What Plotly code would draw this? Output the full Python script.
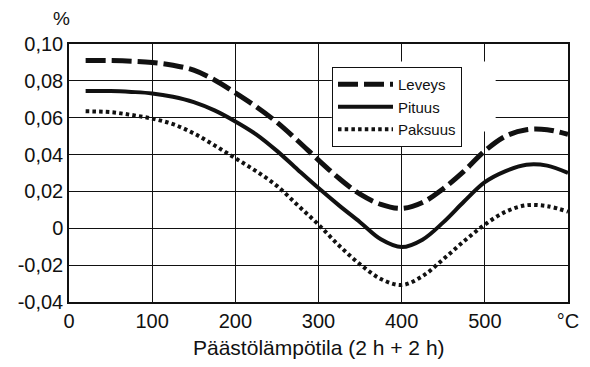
import plotly.graph_objects as go

# x positions (°C)
temp = [20, 50, 75, 100, 125, 150, 175, 200, 225, 250, 275, 300, 325, 350, 375, 400,
        425, 450, 475, 500, 525, 550, 575, 600]

leveys = [0.091, 0.091, 0.0907, 0.0900, 0.0885, 0.0858, 0.0805, 0.0735, 0.066, 0.0575,
          0.0475, 0.037, 0.027, 0.0185, 0.0130, 0.0108, 0.0140, 0.0215, 0.031, 0.042,
          0.0500, 0.0535, 0.0535, 0.0510]

pituus = [0.0745, 0.0745, 0.0740, 0.0732, 0.0714, 0.0685, 0.0640, 0.0580, 0.0510, 0.0420,
          0.0318, 0.0218, 0.0123, 0.0033, -0.0060, -0.0102, -0.0062, 0.0032, 0.0145, 0.0250,
          0.0310, 0.0345, 0.0340, 0.0300]

paksuus = [0.0635, 0.0630, 0.0615, 0.0595, 0.0565, 0.0515, 0.0450, 0.0380, 0.0310, 0.0230,
           0.0125, 0.0020, -0.0095, -0.0195, -0.0275, -0.0308, -0.0260, -0.0168, -0.0070,
           0.0020, 0.0090, 0.0125, 0.0120, 0.0090]

series_names = ["Leveys", "Pituus", "Paksuus"]

x_tickvals = [0, 100, 200, 300, 400, 500, 600]
x_ticktext = ["0", "100", "200", "300", "400", "500", "°C"]
y_tickvals = [-0.04, -0.02, 0, 0.02, 0.04, 0.06, 0.08, 0.10]
y_ticktext = ["-0,04", "-0,02", "0", "0,02", "0,04", "0,06", "0,08", "0,10"]

FONT = "Liberation Sans, Arial, Helvetica, sans-serif"
INK = "#111111"

fig = go.Figure()
fig.add_trace(go.Scatter(x=temp, y=leveys, name=series_names[0], mode="lines",
                         line=dict(color=INK, width=5, dash="20px,6px", shape="spline", smoothing=1.0)))
fig.add_trace(go.Scatter(x=temp, y=pituus, name=series_names[1], mode="lines",
                         line=dict(color=INK, width=4, shape="spline", smoothing=1.0)))
fig.add_trace(go.Scatter(x=temp, y=paksuus, name=series_names[2], mode="lines",
                         line=dict(color=INK, width=4, dash="3.5px,3.2px", shape="spline", smoothing=1.0)))

# white mask behind legend (hides gridlines as in the original)
fig.add_shape(type="rect", xref="x", yref="y", x0=316, x1=513, y0=0.0525, y1=0.0905,
              fillcolor="white", line=dict(width=0), layer="between")

PW, PH = 499, 258
fig.update_layout(
    width=590, height=367,
    margin=dict(l=69, r=22, t=44, b=65),
    paper_bgcolor="white", plot_bgcolor="white",
    font=dict(family=FONT, color=INK, size=20),
    showlegend=True,
    legend=dict(x=(332 - 69) / PW, y=1 - (67 - 44) / PH, xanchor="left", yanchor="top",
                bgcolor="white", bordercolor=INK, borderwidth=1,
                font=dict(size=15, family=FONT, color=INK),
                itemwidth=55, tracegroupgap=0),
    annotations=[
        dict(text="%", x=(61 - 69) / PW, y=1 + (44 - 18) / PH, xref="paper", yref="paper",
             showarrow=False, font=dict(size=19, family=FONT, color=INK),
             xanchor="center", yanchor="middle"),
        dict(text="Päästölämpötila (2 h + 2 h)", xref="paper", yref="paper", x=0.5, y=0,
             showarrow=False, font=dict(size=21, family=FONT, color=INK),
             xanchor="center", yanchor="middle", yshift=-(347 - 302)),
    ],
)

fig.update_xaxes(range=[0, 600], tickvals=x_tickvals, ticktext=x_ticktext,
                 showgrid=True, gridcolor=INK, gridwidth=1,
                 showline=True, linecolor=INK, linewidth=1.5, mirror=True,
                 ticks="", zeroline=False, tickfont=dict(size=20, family=FONT, color=INK))
fig.update_yaxes(range=[-0.04, 0.10], tickvals=y_tickvals, ticktext=y_ticktext,
                 showgrid=True, gridcolor=INK, gridwidth=1,
                 showline=True, linecolor=INK, linewidth=1.5, mirror=True,
                 ticks="", zeroline=False, tickfont=dict(size=20, family=FONT, color=INK))

fig.write_html("out.html")
